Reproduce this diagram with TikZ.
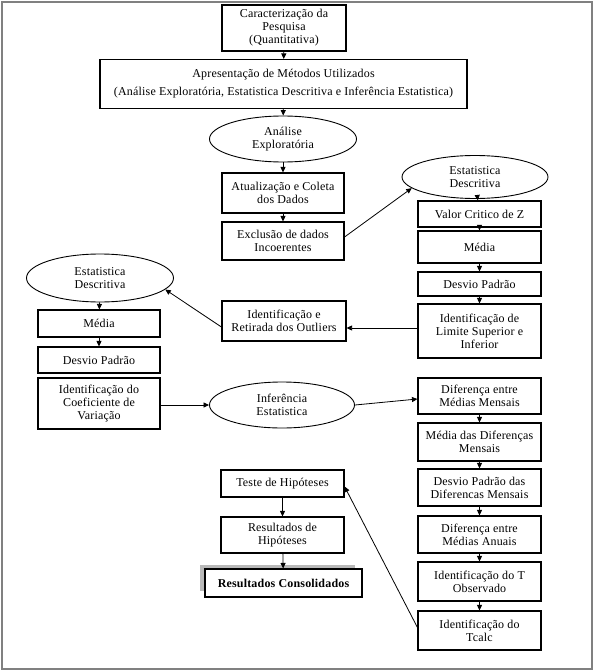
\documentclass[tikz,border=0pt]{standalone}
\usepackage{fontspec}
\setmainfont{Liberation Serif}[LetterSpace=1.5]
\usetikzlibrary{arrows.meta,shapes.geometric}
\begin{document}
\begin{tikzpicture}[x=1pt,y=-1pt,
  txt/.style={align=center,font=\fontsize{12}{13}\selectfont},
  box/.style={txt,draw,line width=1.1pt,inner sep=1pt},
  ell/.style={txt,draw,ellipse,line width=0.9pt,inner sep=0pt},
  arr/.style={-{Triangle[length=5.5pt,width=5pt]},line width=0.8pt}]
\useasboundingbox (0,0) rectangle (595,672);
\draw[gray,line width=2pt] (2,2) rectangle (592,669);

% top
\node[box,minimum width=124pt,minimum height=46pt] (c1) at (284,28) {Caracterização da\\Pesquisa\\(Quantitativa)};
\node[box,minimum width=367pt,minimum height=49pt] (c2) at (283.5,84) {Apresentação de Métodos Utilizados\\[5pt](Análise Exploratória, Estatistica Descritiva e Inferência Estatistica)};
\node[ell,minimum width=147pt,minimum height=46pt] (e1) at (283,139) {Análise\\Exploratória};
\node[box,minimum width=122pt,minimum height=40pt] (b3) at (283,193) {Atualização e Coleta\\dos Dados};
\node[box,minimum width=122pt,minimum height=38pt] (b4) at (283,241) {Exclusão de dados\\Incoerentes};

% right column 1
\node[ell,minimum width=146pt,minimum height=43pt] (e2) at (475,177) {Estatistica\\Descritiva};
\node[box,minimum width=123pt,minimum height=26pt] (r1) at (479.5,214) {Valor Critico de Z};
\node[box,minimum width=123pt,minimum height=32pt] (r2) at (479.5,247) {Média};
\node[box,minimum width=123pt,minimum height=24pt] (r3) at (479.5,284) {Desvio Padrão};
\node[box,minimum width=123pt,minimum height=54pt] (r4) at (479.5,331) {Identificação de\\Limite Superior e\\Inferior};

% middle
\node[box,minimum width=124pt,minimum height=40pt] (m) at (284,321) {Identificação e\\Retirada dos Outliers};

% left column
\node[ell,minimum width=147pt,minimum height=48pt] (e3) at (100,278) {Estatistica\\Descritiva};
\node[box,minimum width=122pt,minimum height=27pt] (l1) at (99,323.5) {Média};
\node[box,minimum width=122pt,minimum height=26pt] (l2) at (99,360) {Desvio Padrão};
\node[box,minimum width=122pt,minimum height=51pt] (l3) at (99,403.5) {Identificação do\\Coeficiente de\\Variação};

% inference
\node[ell,minimum width=145pt,minimum height=46pt] (e4) at (282,405) {Inferência\\Estatistica};

% right column 2
\node[box,minimum width=123pt,minimum height=36pt] (s1) at (479.5,396) {Diferença entre\\Médias Mensais};
\node[box,minimum width=123pt,minimum height=38pt] (s2) at (479.5,442) {Média das Diferenças\\Mensais};
\node[box,minimum width=123pt,minimum height=37pt] (s3) at (479.5,487.5) {Desvio Padrão das\\Diferencas Mensais};
\node[box,minimum width=123pt,minimum height=37pt] (s4) at (479.5,534.5) {Diferença entre\\Médias Anuais};
\node[box,minimum width=123pt,minimum height=39pt] (s5) at (479.5,581.5) {Identificação do T\\Observado};
\node[box,minimum width=123pt,minimum height=39pt] (s6) at (479.5,630.5) {Identificação do\\Tcalc};

% bottom middle
\node[box,minimum width=123pt,minimum height=27pt] (t1) at (282.5,483.5) {Teste de Hipóteses};
\node[box,minimum width=123pt,minimum height=36pt] (t2) at (282.5,535) {Resultados de\\Hipóteses};
\fill[gray!55] (200,565) rectangle (355,591);
\node[box,fill=white,minimum width=157pt,minimum height=28pt,font=\fontsize{12}{13}\selectfont\bfseries] (t3) at (283.5,583) {Resultados Consolidados};

% connectors
\draw[arr] (c1) -- (c2);
\draw[arr] (c2) -- (e1);
\draw[arr] (e1) -- (b3);
\draw[arr] (b3) -- (b4);
\draw[arr] ([yshift=4pt]b4.east) -- (e2.190);
\draw[arr] (e2) -- (r1);
\draw[arr] (r1) -- (r2);
\draw[arr] (r2) -- (r3);
\draw[arr] (r3) -- (r4);
\draw[arr] ([yshift=3pt]r4.west) -- ([yshift=3pt]r4.west -| m.east);
\draw[arr] ([yshift=-6pt]m.west) -- (e3.350);
\draw[arr] (e3) -- (l1);
\draw[arr] (l1) -- (l2);
\draw[arr] (l3.east |- e4.west) -- (e4.west);
\draw[arr] (e4.east) -- ([yshift=-3pt]s1.west);
\draw[arr] (s1) -- (s2);
\draw[arr] (s2) -- (s3);
\draw[arr] (s3) -- (s4);
\draw[arr] (s4) -- (s5);
\draw[arr] (s5) -- (s6);
\draw[arr] ([yshift=3pt]s6.west) -- ([yshift=-3pt]t1.east);
\draw[arr] (t1) -- (t2);
\draw[arr] (t2) -- (t3);
\end{tikzpicture}
\end{document}
